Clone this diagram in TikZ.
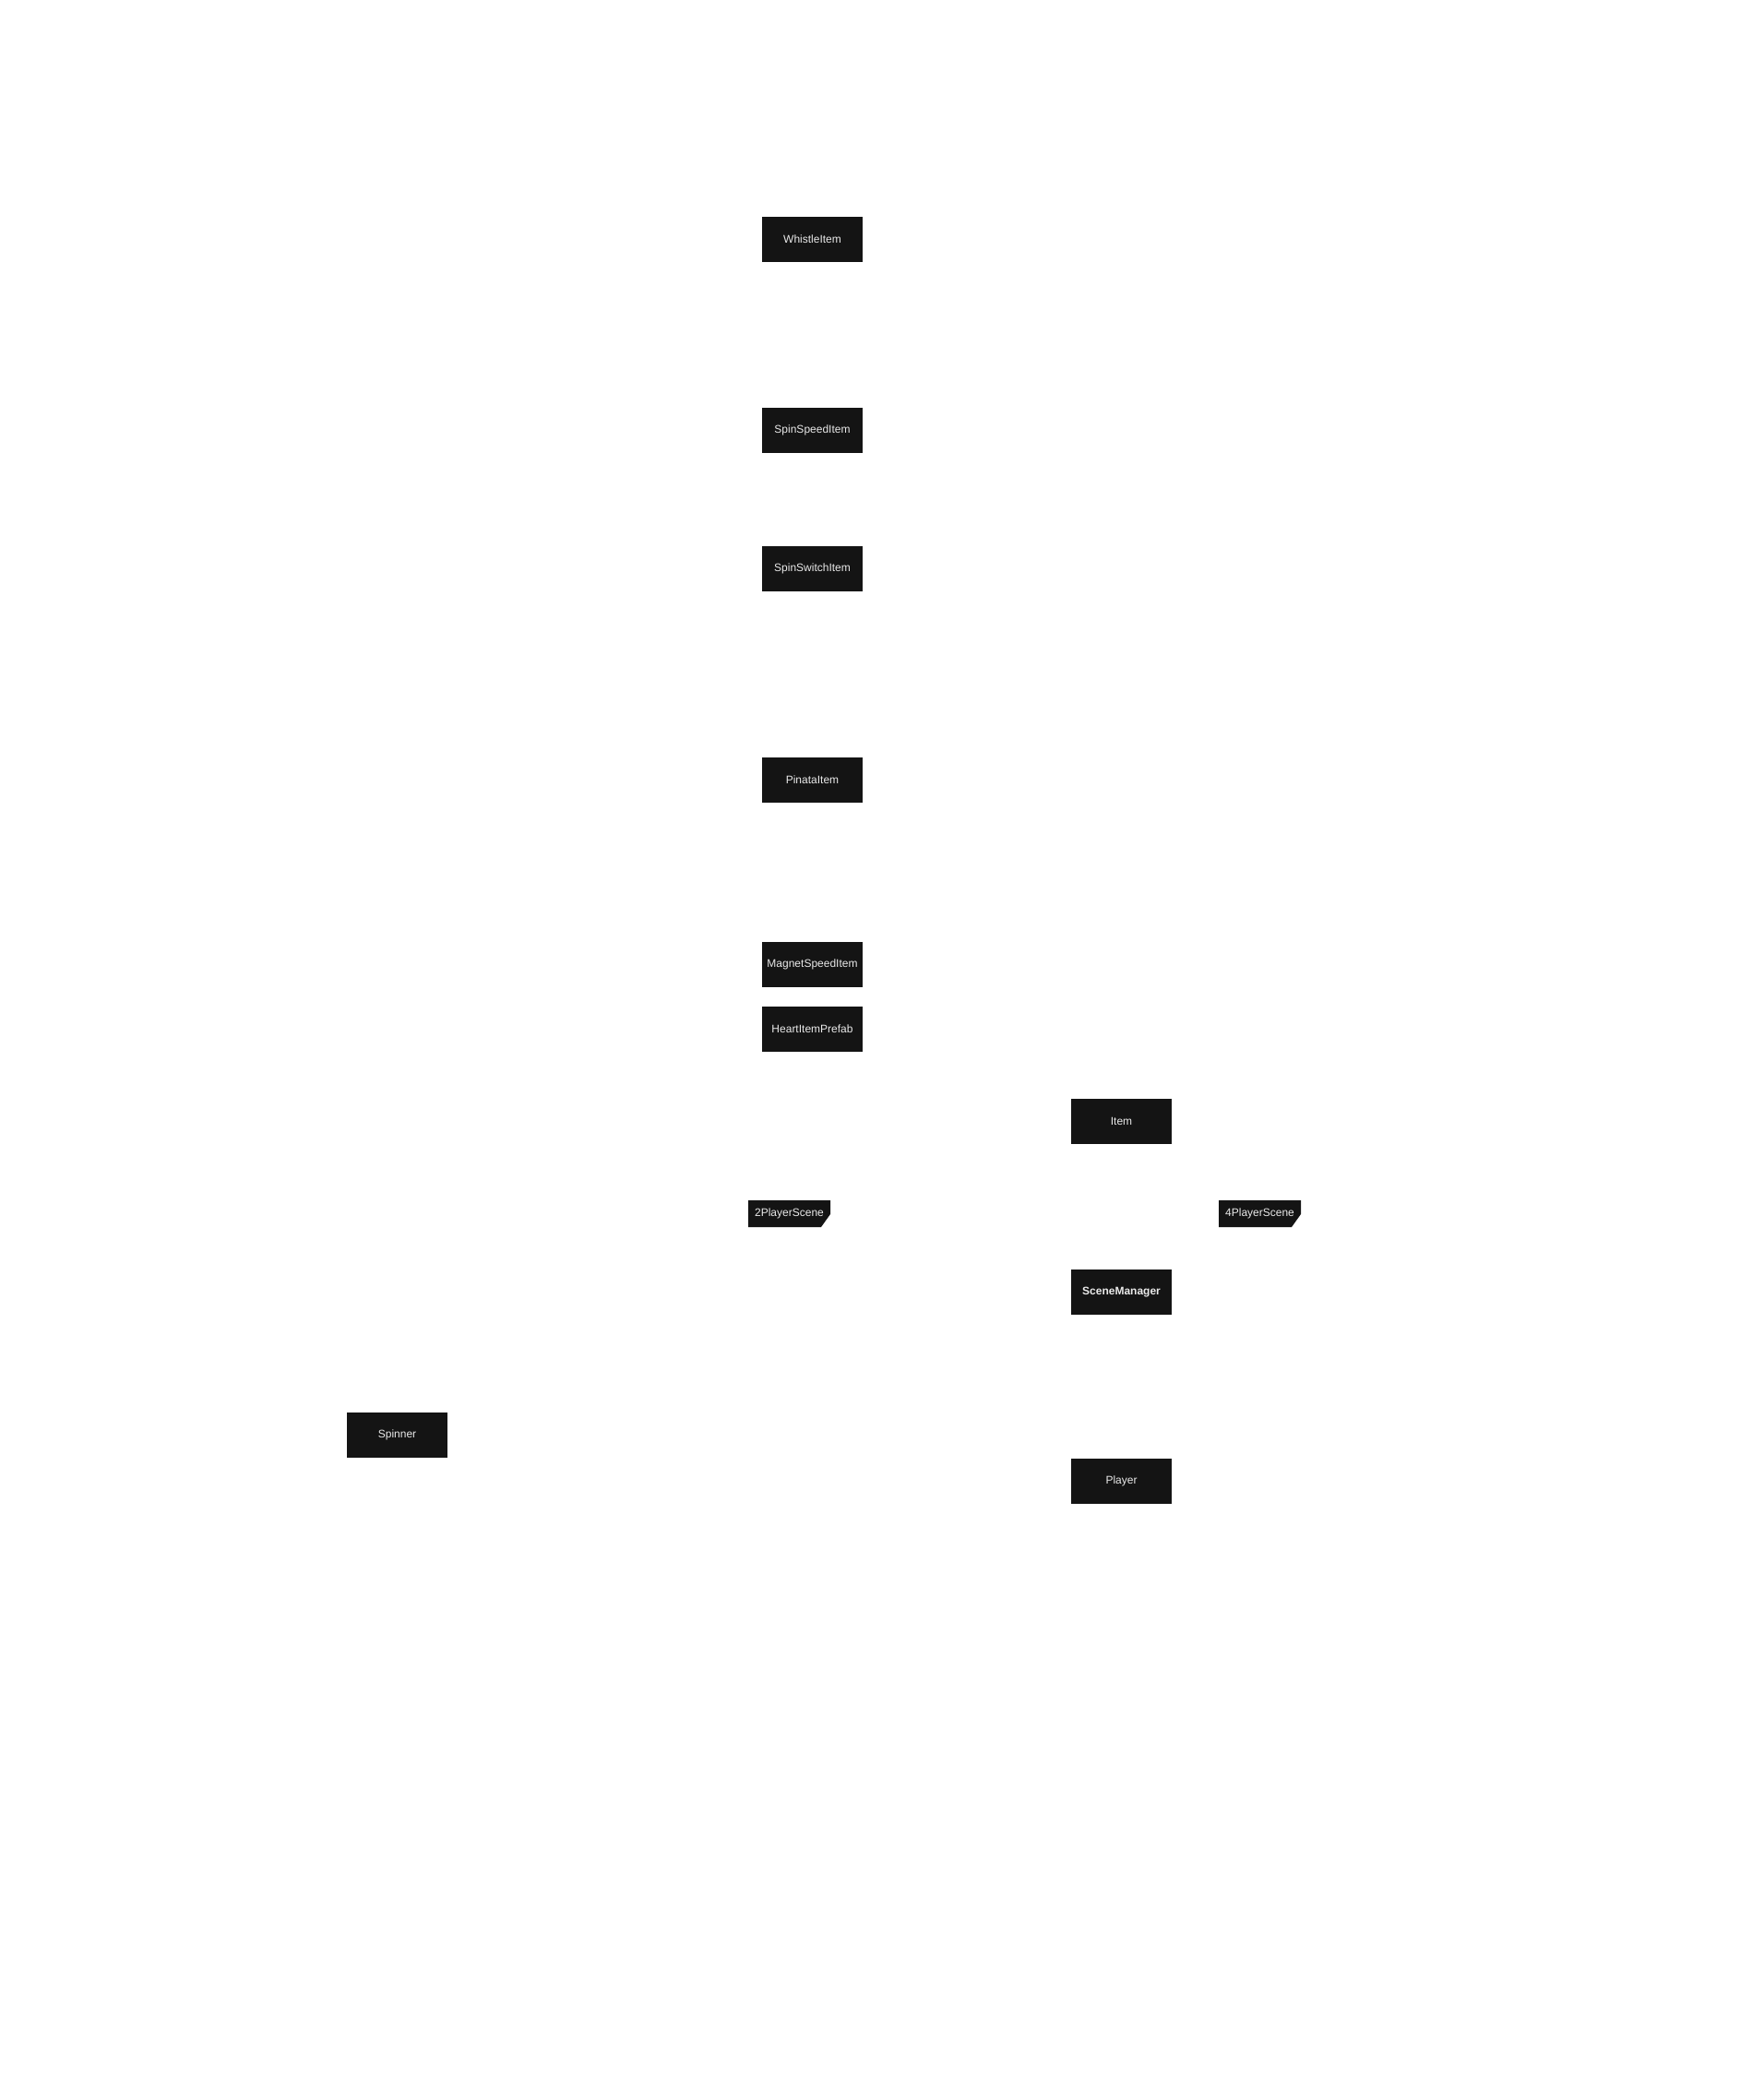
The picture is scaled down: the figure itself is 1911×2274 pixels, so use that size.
\documentclass[tikz,border=0pt]{standalone}
\usepackage{fontspec}
\setmainfont{Liberation Sans}
\definecolor{boxfill}{HTML}{141414}
\definecolor{boxtext}{HTML}{EAEAEA}
\begin{document}
\begin{tikzpicture}[x=1pt,y=-1pt,
  cls/.style={fill=boxfill,text=boxtext,minimum width=109pt,minimum height=49pt,inner sep=0pt,font=\fontsize{12}{14}\selectfont},
  tagtext/.style={text=boxtext,inner sep=0pt,font=\fontsize{12}{14}\selectfont}]
\useasboundingbox[fill=white] (0,0) rectangle (1911,2274);
\node[cls] (whistle) at (880.5,259.5) {WhistleItem};
\node[cls] (spinspeed) at (880.5,466) {SpinSpeedItem};
\node[cls] (spinswitch) at (880.5,616) {SpinSwitchItem};
\node[cls] (pinata) at (880.5,845) {PinataItem};
\node[cls] (magnet) at (880.5,1045) {MagnetSpeedItem};
\node[cls] (heart) at (880.5,1115) {HeartItemPrefab};
\node[cls] (item) at (1215.5,1215.5) {Item};
\node[cls,font=\fontsize{12}{14}\selectfont\bfseries] (scenemgr) at (1215.5,1400.5) {SceneManager};
\node[cls] (player) at (1215.5,1605.5) {Player};
\node[cls] (spinner) at (430.5,1555) {Spinner};
\fill[boxfill] (811,1301) -- (900,1301) -- (900,1316) -- (890,1330) -- (811,1330) -- cycle;
\node[tagtext] (two) at (855.5,1315.5) {2PlayerScene};
\fill[boxfill] (1321,1301) -- (1410,1301) -- (1410,1316) -- (1400,1330) -- (1321,1330) -- cycle;
\node[tagtext] (four) at (1365.5,1315.5) {4PlayerScene};
\end{tikzpicture}
\end{document}
